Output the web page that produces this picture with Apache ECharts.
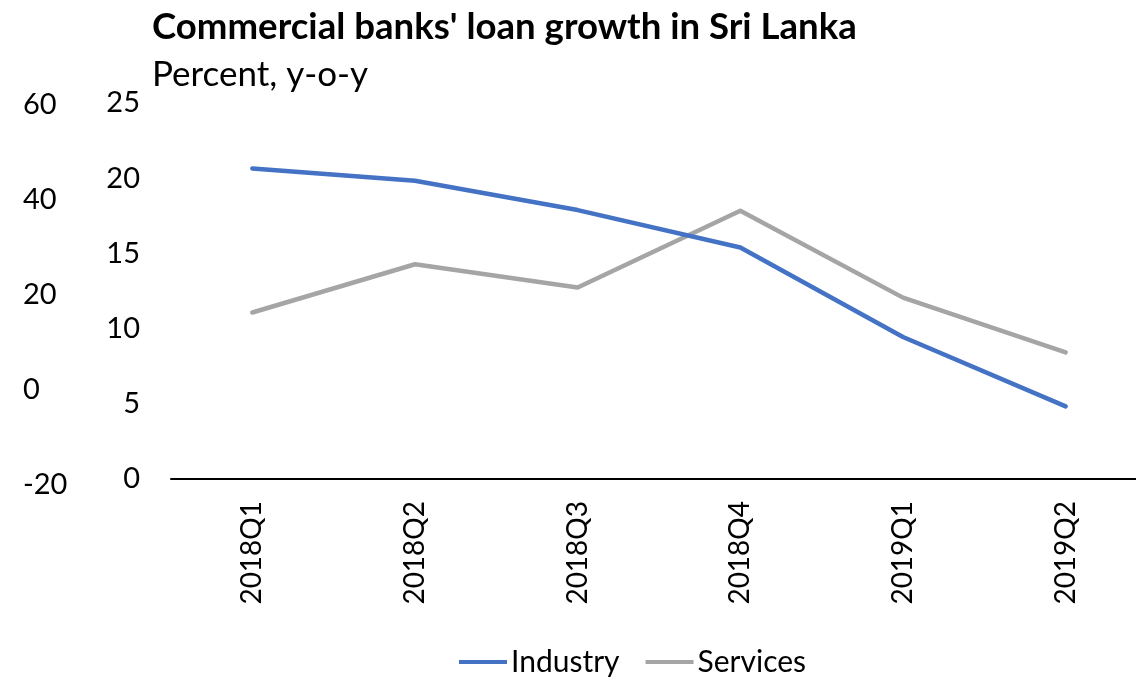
<!DOCTYPE html>
<html>
<head>
<meta charset="utf-8">
<script src="https://cdn.jsdelivr.net/npm/echarts@6/dist/echarts.min.js"></script>
<style>
  html, body { margin: 0; padding: 0; background: #fff; }
  #chart { width: 1136px; height: 678px; }
</style>
</head>
<body>
<div id="chart"></div>
<script>
// Quarterly y-o-y loan growth of commercial banks, percent
const categories = ['2018Q1', '2018Q2', '2018Q3', '2018Q4', '2019Q1', '2019Q2'];
const industry = [20.65, 19.83, 17.88, 15.39, 9.44, 4.83];
const services = [11.07, 14.28, 12.73, 17.83, 12.06, 8.42];

// Two left-hand scales
const outerTicks = { min: -20, max: 60, interval: 20 };
const innerTicks = { min: 0, max: 25, interval: 5 };

const FONT = 'Lato';
const chart = echarts.init(document.getElementById('chart'), null, { renderer: 'canvas' });

chart.setOption({
  animation: false,
  backgroundColor: '#ffffff',
  textStyle: { fontFamily: FONT },
  title: [
    {
      text: "Commercial banks' loan growth in Sri Lanka",
      left: 152,
      top: 9,
      padding: 0,
      textStyle: { fontFamily: FONT, fontSize: 36.6, lineHeight: 36, fontWeight: 'bold', color: '#000' }
    },
    {
      text: 'Percent, y-o-y',
      left: 152,
      top: 57,
      padding: 0,
      textStyle: { fontFamily: FONT, fontSize: 35, lineHeight: 36, fontWeight: 'normal', color: '#000' }
    }
  ],
  legend: {
    top: 645,
    left: 459,
    padding: 0,
    itemWidth: 48,
    itemHeight: 4,
    itemGap: 26,
    icon: 'rect',
    textStyle: { fontFamily: FONT, fontSize: 30, lineHeight: 34, color: '#000', padding: [0, 0, 0, -1] },
    data: [
      { name: 'Industry', itemStyle: { color: '#4472C4' } },
      { name: 'Services', itemStyle: { color: '#A5A5A5' } }
    ]
  },
  grid: [
    { left: 171, top: 103, width: 976, height: 376, outerBoundsMode: 'none' },
    { left: 171, top: 105, width: 976, height: 380, outerBoundsMode: 'none' }
  ],
  xAxis: [
    {
      type: 'category',
      gridIndex: 0,
      data: categories,
      boundaryGap: true,
      axisLine: { show: true, lineStyle: { color: '#000', width: 2 } },
      axisTick: { show: false },
      axisLabel: { rotate: 90, margin: 22, fontFamily: FONT, fontSize: 28, color: '#000' },
      splitLine: { show: false }
    },
    {
      type: 'category',
      gridIndex: 1,
      data: categories,
      show: false
    }
  ],
  yAxis: [
    {
      type: 'value',
      gridIndex: 0,
      min: innerTicks.min,
      max: innerTicks.max,
      interval: innerTicks.interval,
      axisLine: { show: false },
      axisTick: { show: false },
      splitLine: { show: false },
      axisLabel: { margin: 31, align: 'right', fontFamily: FONT, fontSize: 29, color: '#000' }
    },
    {
      type: 'value',
      gridIndex: 1,
      min: outerTicks.min,
      max: outerTicks.max,
      interval: outerTicks.interval,
      axisLine: { show: false },
      axisTick: { show: false },
      splitLine: { show: false },
      axisLabel: { margin: 148, align: 'left', fontFamily: FONT, fontSize: 29, color: '#000' }
    }
  ],
  series: [
    {
      name: 'Industry',
      type: 'line',
      xAxisIndex: 0,
      yAxisIndex: 0,
      data: industry,
      showSymbol: false,
      lineStyle: { color: '#4472C4', width: 4.5, cap: 'round', join: 'round' },
      itemStyle: { color: '#4472C4' },
      z: 3
    },
    {
      name: 'Services',
      type: 'line',
      xAxisIndex: 0,
      yAxisIndex: 0,
      data: services,
      showSymbol: false,
      lineStyle: { color: '#A5A5A5', width: 4.5, cap: 'round', join: 'round' },
      itemStyle: { color: '#A5A5A5' },
      z: 2
    }
  ]
});
</script>
</body>
</html>
